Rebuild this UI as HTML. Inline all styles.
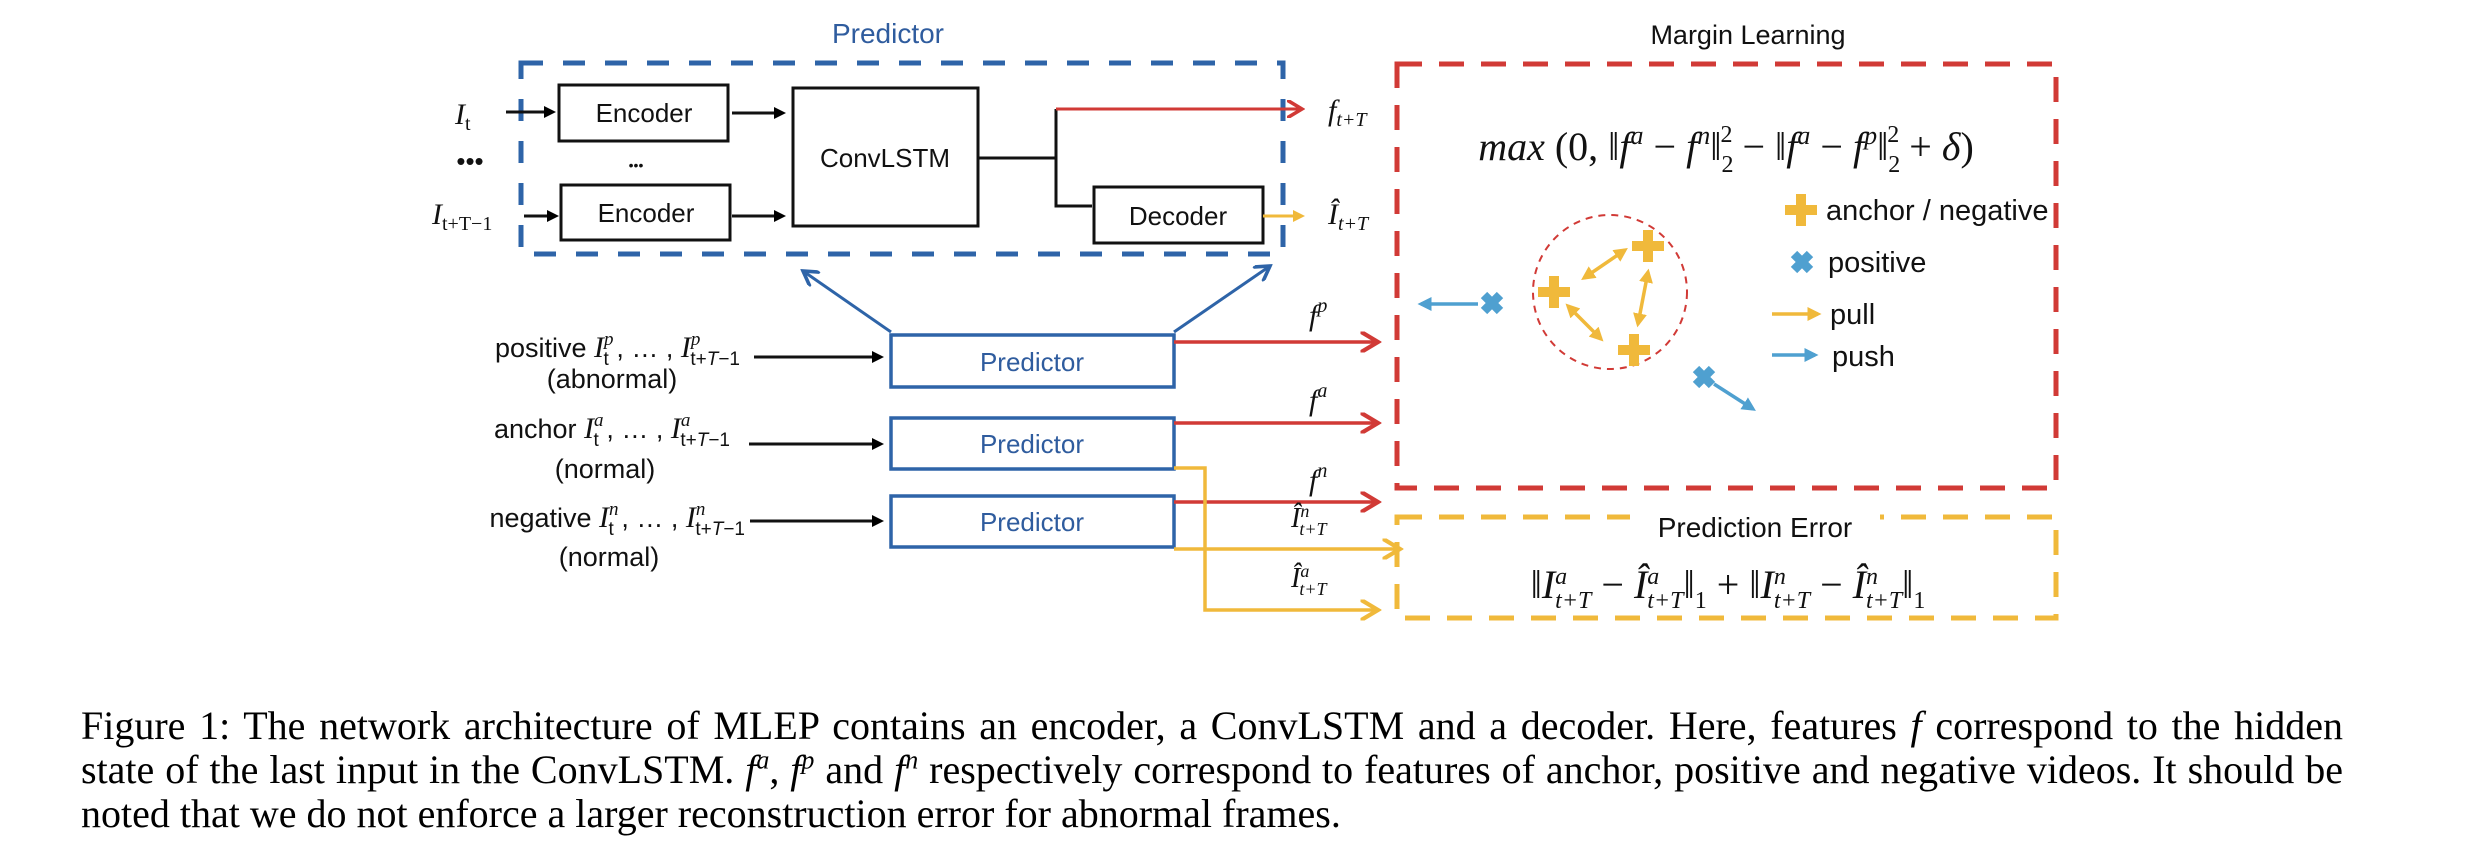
<!DOCTYPE html>
<html><head><meta charset="utf-8"><style>
html,body{margin:0;padding:0;background:#fff;}
body{width:2484px;height:866px;position:relative;overflow:hidden;}
svg{position:absolute;left:0;top:0;}
.cap{position:absolute;left:81px;top:704px;width:2262px;font-family:"Liberation Serif",serif;font-size:40px;line-height:44px;text-align:justify;color:#000;}
.cap i{font-style:italic;}
.cap sup{line-height:0;font-size:26px;}
</style></head><body>
<svg width="2484" height="700" viewBox="0 0 2484 700" xmlns="http://www.w3.org/2000/svg">
<defs>
<marker id="ak" markerWidth="4" markerHeight="4" refX="3" refY="2" orient="auto" markerUnits="strokeWidth"><path d="M0,0 L4,2 L0,4 z" fill="#000"/></marker>
<marker id="ar" markerWidth="6" markerHeight="6" refX="5" refY="3" orient="auto" markerUnits="strokeWidth"><path d="M0,0 L5,3 L0,6" fill="none" stroke="#D13A36" stroke-width="1.2"/></marker>
<marker id="ay" markerWidth="6" markerHeight="6" refX="5" refY="3" orient="auto" markerUnits="strokeWidth"><path d="M0,0 L5,3 L0,6" fill="none" stroke="#F0B93B" stroke-width="1.2"/></marker>
<marker id="ayf" markerWidth="4" markerHeight="4" refX="3" refY="2" orient="auto" markerUnits="strokeWidth"><path d="M0,0 L4,2 L0,4 z" fill="#F0B93B"/></marker>
<marker id="ab" markerWidth="6" markerHeight="6" refX="5" refY="3" orient="auto" markerUnits="strokeWidth"><path d="M0,0 L5,3 L0,6" fill="none" stroke="#2E64A8" stroke-width="1.2"/></marker>
<marker id="alb" markerWidth="4" markerHeight="4" refX="3" refY="2" orient="auto" markerUnits="strokeWidth"><path d="M0,0 L4,2 L0,4 z" fill="#4FA0D0"/></marker>
<marker id="ayd" markerWidth="4" markerHeight="4" refX="3" refY="2" orient="auto-start-reverse" markerUnits="strokeWidth"><path d="M0,0 L4,2 L0,4 z" fill="#F0B93B"/></marker>
</defs>
<g font-family="Liberation Sans, sans-serif">
<!-- Predictor detail -->
<text x="888" y="43" font-size="28" fill="#2F5C9E" text-anchor="middle">Predictor</text>
<rect x="521" y="63" width="762" height="191" fill="none" stroke="#2E64A8" stroke-width="5" stroke-dasharray="22 20"/>
<g fill="#fff" stroke="#111" stroke-width="3">
<rect x="559" y="85" width="169" height="56"/>
<rect x="561" y="185" width="169" height="55"/>
<rect x="793" y="88" width="185" height="138"/>
<rect x="1094" y="187" width="169" height="56"/>
</g>
<g font-size="26" text-anchor="middle" fill="#111">
<text x="644" y="122">Encoder</text>
<text x="646" y="222">Encoder</text>
<text x="885" y="167">ConvLSTM</text>
<text x="1178" y="225">Decoder</text>
<text x="470" y="170">•••</text>
<text x="636" y="170" font-size="14">•••</text>
</g>
<g stroke="#111" stroke-width="3" fill="none">
<line x1="506" y1="112" x2="553" y2="112" marker-end="url(#ak)"/>
<line x1="524" y1="216" x2="556" y2="216" marker-end="url(#ak)"/>
<line x1="732" y1="113" x2="783" y2="113" marker-end="url(#ak)"/>
<line x1="732" y1="216" x2="783" y2="216" marker-end="url(#ak)"/>
<polyline points="978,158 1056,158"/>
<polyline points="1056,109 1056,206 1092,206"/>
</g>
<line x1="1056" y1="109" x2="1302" y2="109" stroke="#D13A36" stroke-width="3" marker-end="url(#ar)"/>
<line x1="1263" y1="216" x2="1302" y2="216" stroke="#F0B93B" stroke-width="3" marker-end="url(#ayf)"/>
<g font-family="Liberation Serif, serif" font-style="italic" fill="#111">
<text x="455" y="124" font-size="30">I<tspan font-style="normal" font-size="20" dy="6">t</tspan></text>
<text x="432" y="224" font-size="30">I<tspan font-style="normal" font-size="20" dy="6">t+T−1</tspan></text>
<text x="1328" y="120" font-size="30">f<tspan font-size="20" dy="6">t+T</tspan></text>
<text x="1328" y="224" font-size="30">Î<tspan font-size="20" dy="6">t+T</tspan></text>
</g>
<!-- blue arrows up -->
<line x1="891" y1="332" x2="803" y2="271" stroke="#2E64A8" stroke-width="3" marker-end="url(#ab)"/>
<line x1="1174" y1="332" x2="1270" y2="266" stroke="#2E64A8" stroke-width="3" marker-end="url(#ab)"/>
<!-- Predictor boxes -->
<g fill="#fff" stroke="#2E64A8" stroke-width="3.5">
<rect x="891" y="335" width="283" height="52"/>
<rect x="891" y="418" width="283" height="51"/>
<rect x="891" y="496" width="283" height="51"/>
</g>
<g font-size="26" fill="#2F5C9E" text-anchor="middle">
<text x="1032" y="371">Predictor</text>
<text x="1032" y="453">Predictor</text>
<text x="1032" y="531">Predictor</text>
</g>
<g font-size="27" fill="#111">
<text x="740" y="357" text-anchor="end">positive <tspan font-family="Liberation Serif,serif" font-style="italic" font-size="30">I</tspan><tspan font-family="Liberation Serif,serif" font-style="italic" font-size="19" dy="-12">p</tspan><tspan font-size="19" dx="-10" dy="20">t</tspan><tspan dy="-8"> , … , </tspan><tspan font-family="Liberation Serif,serif" font-style="italic" font-size="30">I</tspan><tspan font-family="Liberation Serif,serif" font-style="italic" font-size="19" dy="-12">p</tspan><tspan font-size="19" dx="-10" dy="20">t+<tspan font-style="italic">T</tspan>−1</tspan></text>
<text x="612" y="388" text-anchor="middle">(abnormal)</text>
<text x="730" y="438" text-anchor="end">anchor <tspan font-family="Liberation Serif,serif" font-style="italic" font-size="30">I</tspan><tspan font-family="Liberation Serif,serif" font-style="italic" font-size="19" dy="-12">a</tspan><tspan font-size="19" dx="-10" dy="20">t</tspan><tspan dy="-8"> , … , </tspan><tspan font-family="Liberation Serif,serif" font-style="italic" font-size="30">I</tspan><tspan font-family="Liberation Serif,serif" font-style="italic" font-size="19" dy="-12">a</tspan><tspan font-size="19" dx="-10" dy="20">t+<tspan font-style="italic">T</tspan>−1</tspan></text>
<text x="605" y="478" text-anchor="middle">(normal)</text>
<text x="745" y="527" text-anchor="end">negative <tspan font-family="Liberation Serif,serif" font-style="italic" font-size="30">I</tspan><tspan font-family="Liberation Serif,serif" font-style="italic" font-size="19" dy="-12">n</tspan><tspan font-size="19" dx="-10" dy="20">t</tspan><tspan dy="-8"> , … , </tspan><tspan font-family="Liberation Serif,serif" font-style="italic" font-size="30">I</tspan><tspan font-family="Liberation Serif,serif" font-style="italic" font-size="19" dy="-12">n</tspan><tspan font-size="19" dx="-10" dy="20">t+<tspan font-style="italic">T</tspan>−1</tspan></text>
<text x="609" y="566" text-anchor="middle">(normal)</text>
</g>
<g stroke="#111" stroke-width="3">
<line x1="754" y1="357" x2="881" y2="357" marker-end="url(#ak)"/>
<line x1="749" y1="444" x2="881" y2="444" marker-end="url(#ak)"/>
<line x1="750" y1="521" x2="881" y2="521" marker-end="url(#ak)"/>
</g>
<g stroke="#D13A36" stroke-width="3.5">
<line x1="1174" y1="342" x2="1378" y2="342" marker-end="url(#ar)"/>
<line x1="1174" y1="423" x2="1378" y2="423" marker-end="url(#ar)"/>
<line x1="1174" y1="502" x2="1378" y2="502" marker-end="url(#ar)"/>
</g>
<g stroke="#F0B93B" stroke-width="3.5" fill="none">
<polyline points="1174,468 1205,468 1205,610 1378,610" marker-end="url(#ay)"/>
<line x1="1174" y1="549" x2="1400" y2="549" marker-end="url(#ay)"/>
</g>
<g font-family="Liberation Serif,serif" font-style="italic" fill="#111" font-size="30">
<text x="1309" y="325">f<tspan font-size="20" dy="-13">p</tspan></text>
<text x="1309" y="410">f<tspan font-size="20" dy="-13">a</tspan></text>
<text x="1309" y="490">f<tspan font-size="20" dy="-13">n</tspan></text>
<text x="1291" y="527" font-size="28">Î<tspan font-size="18" dy="-10">n</tspan><tspan font-size="18" dx="-10" dy="18">t+T</tspan></text>
<text x="1291" y="587" font-size="28">Î<tspan font-size="18" dy="-10">a</tspan><tspan font-size="18" dx="-10" dy="18">t+T</tspan></text>
</g>
<!-- Margin learning -->
<text x="1748" y="44" font-size="27" fill="#111" text-anchor="middle">Margin Learning</text>
<rect x="1397" y="64" width="659" height="424" fill="none" stroke="#D13A36" stroke-width="5" stroke-dasharray="25 17"/>
<text x="1726" y="160" font-family="Liberation Serif,serif" font-size="40" fill="#111" text-anchor="middle"><tspan font-style="italic">max</tspan> (0, ‖<tspan font-style="italic">f</tspan><tspan font-style="italic" font-size="26" dy="-16">a</tspan><tspan dy="16"> − </tspan><tspan font-style="italic">f</tspan><tspan font-style="italic" font-size="26" dy="-16">n</tspan><tspan dy="16">‖</tspan><tspan font-size="24" dy="12">2</tspan><tspan font-size="24" dx="-13" dy="-30">2</tspan><tspan dy="18"> − ‖</tspan><tspan font-style="italic">f</tspan><tspan font-style="italic" font-size="26" dy="-16">a</tspan><tspan dy="16"> − </tspan><tspan font-style="italic">f</tspan><tspan font-style="italic" font-size="26" dy="-16">p</tspan><tspan dy="16">‖</tspan><tspan font-size="24" dy="12">2</tspan><tspan font-size="24" dx="-13" dy="-30">2</tspan><tspan dy="18"> + </tspan><tspan font-style="italic">δ</tspan>)</text>
<circle cx="1610" cy="292" r="77" fill="none" stroke="#D13A36" stroke-width="2" stroke-dasharray="7 6"/>
<g fill="#F0B93B">
<path d="M1796,194h10v11h11v10h-11v11h-10v-11h-11v-10h11z"/>
<path d="M1643,230h10v11h11v10h-11v11h-10v-11h-11v-10h11z"/>
<path d="M1549,276h10v11h11v10h-11v11h-10v-11h-11v-10h11z"/>
<path d="M1629,334h10v11h11v10h-11v11h-10v-11h-11v-10h11z"/>
</g>
<g stroke="#F0B93B" stroke-width="3.5">
<line x1="1584" y1="278" x2="1625" y2="250" marker-start="url(#ayd)" marker-end="url(#ayd)"/>
<line x1="1648" y1="272" x2="1638" y2="324" marker-start="url(#ayd)" marker-end="url(#ayd)"/>
<line x1="1568" y1="306" x2="1601" y2="339" marker-start="url(#ayd)" marker-end="url(#ayd)"/>
<line x1="1772" y1="314" x2="1818" y2="314" marker-end="url(#ayf)"/>
</g>
<g stroke="#4FA0D0" stroke-width="3.5">
<line x1="1772" y1="355" x2="1815" y2="355" marker-end="url(#alb)"/>
<line x1="1478" y1="304" x2="1421" y2="304" marker-end="url(#alb)"/>
<line x1="1714" y1="384" x2="1753" y2="409" marker-end="url(#alb)"/>
</g>
<g stroke="#4FA0D0" stroke-width="9">
<path d="M1794,254l16,16M1810,254l-16,16"/>
<path d="M1484,295l16,16M1500,295l-16,16"/>
<path d="M1696,369l16,16M1712,369l-16,16"/>
</g>
<g font-size="29" fill="#111">
<text x="1826" y="220">anchor / negative</text>
<text x="1828" y="272">positive</text>
<text x="1830" y="324">pull</text>
<text x="1832" y="366">push</text>
</g>
<!-- Prediction error -->
<rect x="1397" y="517" width="659" height="101" fill="none" stroke="#F0B93B" stroke-width="5" stroke-dasharray="25 17"/>
<rect x="1630" y="505" width="250" height="34" fill="#fff"/>
<text x="1755" y="537" font-size="28" fill="#111" text-anchor="middle">Prediction Error</text>
<text x="1728" y="598" font-family="Liberation Serif,serif" font-size="40" fill="#111" text-anchor="middle">‖<tspan font-style="italic">I</tspan><tspan font-style="italic" font-size="24" dy="-14">a</tspan><tspan font-style="italic" font-size="24" dx="-12" dy="24">t+T</tspan><tspan dy="-10"> − </tspan><tspan font-style="italic">Î</tspan><tspan font-style="italic" font-size="24" dy="-14">a</tspan><tspan font-style="italic" font-size="24" dx="-12" dy="24">t+T</tspan><tspan dy="-10">‖</tspan><tspan font-size="24" dy="10">1</tspan><tspan dy="-10"> + ‖</tspan><tspan font-style="italic">I</tspan><tspan font-style="italic" font-size="24" dy="-14">n</tspan><tspan font-style="italic" font-size="24" dx="-12" dy="24">t+T</tspan><tspan dy="-10"> − </tspan><tspan font-style="italic">Î</tspan><tspan font-style="italic" font-size="24" dy="-14">n</tspan><tspan font-style="italic" font-size="24" dx="-12" dy="24">t+T</tspan><tspan dy="-10">‖</tspan><tspan font-size="24" dy="10">1</tspan></text>
</g>
</svg>
<div class="cap">Figure 1: The network architecture of MLEP contains an encoder, a ConvLSTM and a decoder. Here, features <i>f</i> correspond to the hidden state of the last input in the ConvLSTM. <i>f<sup>a</sup></i>, <i>f<sup>p</sup></i> and <i>f<sup>n</sup></i> respectively correspond to features of anchor, positive and negative videos. It should be noted that we do not enforce a larger reconstruction error for abnormal frames.</div>
</body></html>
